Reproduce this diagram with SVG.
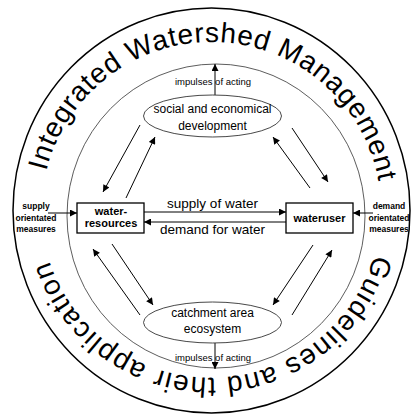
<svg xmlns="http://www.w3.org/2000/svg" width="411" height="414" viewBox="0 0 411 414">
<style>
  text { font-family: "Liberation Sans", Arial, sans-serif; fill: #000; }
  .ring { font-size: 28px; }
  .imp { font-size: 9.5px; }
  .ell { font-size: 12px; text-anchor: middle; }
  .flow { font-size: 13.5px; text-anchor: middle; }
  .box { font-size: 11px; font-weight: bold; text-anchor: middle; }
  .meas { font-size: 8.5px; font-weight: bold; text-anchor: middle; }
  .boxr { fill: #fff; stroke: #000; stroke-width: 1.3; }
  .ellp { fill: #fff; stroke: #333; stroke-width: 0.9; }
  .con { stroke: #000; stroke-width: 1; fill: none; marker-end: url(#ah); }
</style>
<defs>
  <marker id="ah" viewBox="0 0 10 10" refX="10" refY="5" markerWidth="8" markerHeight="7" markerUnits="userSpaceOnUse" orient="auto">
    <path d="M0,0 L10,5 L0,10 z" fill="#000"/>
  </marker>
  <path id="topArc" d="M46.3,171.2 A170,170 0 0 1 377.9,177.9"/>
  <path id="botArc" d="M374.3,254.5 A170,170 0 0 1 51.1,265.7"/>
</defs>
<rect width="411" height="414" fill="#fff"/>

<g id="frame">
  <ellipse cx="211.5" cy="210.5" rx="198.5" ry="202.5" fill="none" stroke="#000" stroke-width="1.5"/>
  <ellipse cx="216" cy="216" rx="149" ry="152" fill="none" stroke="#333" stroke-width="0.8"/>
  <text class="ring"><textPath href="#topArc" textLength="462" lengthAdjust="spacing">Integrated Watershed Management</textPath></text>
  <text class="ring"><textPath href="#botArc" textLength="432" lengthAdjust="spacing">Guidelines and their application</textPath></text>
</g>

<g id="connectors">
  <path class="con" d="M140,125 L103,192"/>
  <path class="con" d="M126,198 L155,137"/>
  <path class="con" d="M310,188 L273,137"/>
  <path class="con" d="M292,128 L328,182"/>
  <path class="con" d="M140,315 L93,249"/>
  <path class="con" d="M112,244 L153,305"/>
  <path class="con" d="M313,245 L273,305"/>
  <path class="con" d="M292,315 L332,250"/>
  <path class="con" d="M144,212 L286,212"/>
  <path class="con" d="M286,222 L144,222"/>
  <path class="con" d="M48,213 L77,213"/>
  <path class="con" d="M373,213 L353,213"/>
  <path class="con" d="M215,95 L215,64"/>
  <path class="con" d="M215,343 L215,369"/>
</g>

<g id="social">
  <ellipse class="ellp" cx="212.5" cy="116" rx="69" ry="21"/>
  <text class="ell" x="212.5" y="113">social and economical</text>
  <text class="ell" x="212.5" y="130">development</text>
</g>

<g id="catchment">
  <ellipse class="ellp" cx="212.5" cy="322.5" rx="69" ry="20.5"/>
  <text class="ell" x="212.5" y="317">catchment area</text>
  <text class="ell" x="212.5" y="333">ecosystem</text>
</g>

<g id="water-resources">
  <rect class="boxr" x="77" y="203" width="67" height="30"/>
  <text class="box" x="111" y="215">water-</text>
  <text class="box" x="111" y="227">resources</text>
</g>

<g id="wateruser">
  <rect class="boxr" x="286" y="203" width="67" height="30"/>
  <text class="box" x="319.5" y="222">wateruser</text>
</g>

<g id="labels">
  <text class="imp" x="175" y="85">impulses of acting</text>
  <text class="imp" x="175" y="361">impulses of acting</text>
  <text class="flow" x="212.5" y="208">supply of water</text>
  <text class="flow" x="212.5" y="234">demand for water</text>
</g>

<g id="supply-measures">
  <text class="meas" x="36" y="209">supply</text>
  <text class="meas" x="36" y="221">orientated</text>
  <text class="meas" x="36" y="232">measures</text>
</g>

<g id="demand-measures">
  <text class="meas" x="389" y="209">demand</text>
  <text class="meas" x="389" y="221">orientated</text>
  <text class="meas" x="389" y="232">measures</text>
</g>
</svg>
